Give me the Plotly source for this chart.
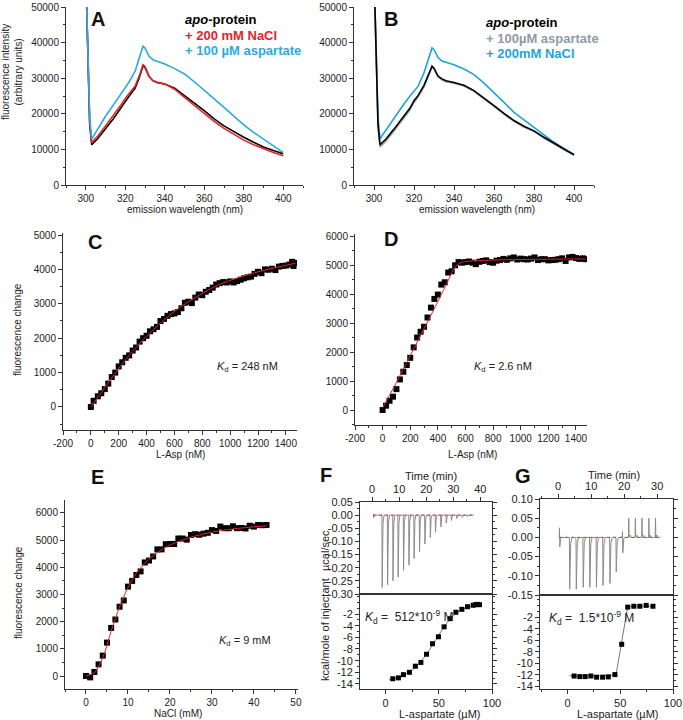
import plotly.graph_objects as go

W, H = 683, 720
FONT = "Liberation Sans, Arial, sans-serif"

# ---------------- Data ----------------
# Panel A / B : emission spectra
wl = [300, 301, 302, 303, 306, 310, 314, 318, 320, 322, 325, 327, 329, 330, 332, 334, 336,
      340, 345, 350, 355, 360, 365, 370, 375, 380, 385, 390, 395, 400]
A_apo = [60000, 36000, 17000, 11300, 13000, 15800, 18600, 21800, 23500, 25000, 27200, 30000, 33500, 33000,
         30500, 29300, 28800, 28400, 27200, 25200, 23000, 20900, 18600, 16600, 14900, 13400, 12000, 10700, 9700, 8800]
A_nacl = [60000, 36000, 17500, 11900, 13700, 16600, 19500, 22600, 24300, 25600, 27800, 30500, 33800, 33300,
          30600, 29300, 28900, 28400, 26900, 24600, 22300, 20100, 17900, 15900, 14200, 12600, 11300, 10100, 9100, 8200]
A_asp = [60000, 38000, 19000, 12900, 15600, 19300, 22500, 25800, 27400, 29000, 32000, 35200, 39000, 38500,
         36200, 35200, 34800, 34000, 32700, 31200, 29000, 26700, 24200, 21800, 19300, 16900, 14800, 12900, 10900, 9100]
B_apo = [60000, 36000, 17000, 11300, 12900, 15700, 18500, 21600, 23700, 25100, 28000, 30500, 33400, 32800,
         30600, 29800, 29300, 28800, 28000, 26500, 24500, 22300, 20100, 18100, 16500, 15200, 13400, 11700, 10000, 8500]
B_asp = [60000, 35500, 16500, 10700, 12400, 15200, 18000, 21100, 23200, 24700, 27600, 30100, 33100, 32600,
         30400, 29500, 29000, 28600, 27800, 26300, 24300, 22100, 19900, 17900, 16300, 15000, 13200, 11500, 9900, 8400]
B_nacl = [60000, 38000, 19000, 13000, 15500, 19000, 22000, 25000, 26500, 27700, 31500, 35000, 38500, 38000,
          35800, 34800, 34500, 33800, 32600, 31000, 28600, 26000, 23200, 20400, 18300, 16300, 14100, 12000, 10200, 8500]

# Panel C : L-Asp titration
C_x = [0, 20, 50, 75, 100, 125, 150, 175, 200, 225, 250, 275, 300, 325, 350, 375, 400, 425, 450, 475,
       500, 525, 550, 575, 600, 625, 650, 675, 700, 725, 750, 775, 800, 825, 850, 875, 900, 925, 950, 975,
       1000, 1025, 1050, 1075, 1100, 1125, 1150, 1175, 1200, 1225, 1250, 1275, 1300, 1325, 1350, 1375,
       1400, 1425, 1445, 1455, 1470]
C_y = [0, 180, 310, 400, 520, 680, 870, 1000, 1180, 1300, 1430, 1500, 1640, 1730, 1900, 2000, 2070, 2200,
       2260, 2330, 2500, 2560, 2650, 2700, 2720, 2760, 2870, 3030, 3060, 3020, 3180, 3270, 3250, 3350, 3400,
       3470, 3560, 3600, 3630, 3620, 3650, 3620, 3660, 3700, 3740, 3770, 3790, 3870, 3930, 3890, 4000, 3990,
       4020, 3980, 4080, 4100, 4110, 4140, 4220, 4100, 4190]
C_fit_x = [0, 100, 200, 300, 400, 500, 600, 700, 800, 900, 1000, 1100, 1200, 1300, 1400, 1470]
C_fit_y = [0, 560, 1120, 1620, 2060, 2440, 2780, 3060, 3300, 3520, 3680, 3810, 3930, 4030, 4120, 4180]

# Panel D : L-Asp titration (+NaCl)
D_x = [0, 25, 50, 75, 100, 125, 150, 175, 200, 225, 250, 275, 300, 325, 350, 375, 400, 425, 450, 475,
       500, 525, 550, 575, 600, 625, 650, 675, 700, 725, 750, 775, 800, 825, 850, 875, 900, 925, 950, 975,
       1000, 1025, 1050, 1075, 1100, 1125, 1150, 1175, 1200, 1225, 1250, 1275, 1300, 1325, 1350, 1375,
       1400, 1425, 1450, 1470]
D_y = [0, 150, 320, 460, 720, 1055, 1320, 1550, 1800, 2160, 2500, 2700, 2870, 3190, 3530, 3830, 3980, 4325,
       4405, 4740, 4785, 4990, 5100, 5080, 5100, 5120, 5080, 5030, 5110, 5140, 5160, 5100, 5080, 5150, 5170,
       5210, 5180, 5230, 5260, 5190, 5220, 5200, 5190, 5220, 5260, 5170, 5200, 5200, 5160, 5170, 5180, 5200,
       5230, 5140, 5260, 5280, 5240, 5210, 5230, 5200]
D_fit_x = [0, 100, 200, 300, 400, 480, 520, 560, 600, 700, 800, 1000, 1200, 1470]
D_fit_y = [80, 950, 1880, 2800, 3740, 4520, 4900, 5070, 5120, 5150, 5170, 5190, 5200, 5210]

# Panel E : NaCl titration
E_x = list(range(0, 44))
E_y = [0, -50, 150, 430, 750, 1230, 1770, 2080, 2550, 2780, 3290, 3500, 3720, 3850, 4180, 4250, 4400,
       4660, 4660, 4850, 4860, 4860, 5060, 5060, 5020, 5190, 5220, 5200, 5240, 5270, 5370, 5340, 5500,
       5440, 5440, 5510, 5440, 5450, 5430, 5530, 5500, 5560, 5550, 5560]
E_fit_x = [0, 2, 4, 6, 8, 10, 12, 14, 16, 18, 20, 24, 28, 32, 36, 40, 43]
E_fit_y = [0, 130, 680, 1650, 2550, 3250, 3780, 4150, 4430, 4650, 4820, 5060, 5230, 5350, 5430, 5490, 5530]

# Panel F : ITC (no NaCl)
F_inj_t = [0.4, 3.5, 5.5, 7.5, 9.4, 11.4, 13.4, 15.3, 17.3, 19.3, 21.3, 23.2, 25.2, 27.2, 29.1, 31.1, 33.1, 35.0]
F_inj_up = [0.005] + [0.0] * 17
F_inj_down = [-0.01, -0.275, -0.265, -0.25, -0.235, -0.21, -0.19, -0.165, -0.14, -0.11, -0.085, -0.065,
              -0.045, -0.03, -0.02, -0.013, -0.009, -0.006]
F_base_t = [0.4, 37.5]
F_base = [0, 0]
F_conc = [6.8, 12.1, 16.8, 22.4, 28.0, 33.2, 38.5, 44.1, 49.7, 55.0, 60.6, 66.1, 71.7, 77.0, 82.3, 84.5, 86.6, 88.2]
F_heat = [-13.1, -12.95, -12.4, -12.0, -10.95, -10.3, -8.9, -7.1, -5.9, -4.2, -2.8, -1.7, -1.2, -0.75,
          -0.5, -0.4, -0.35, -0.4]
F_fit_x = [3, 10, 20, 30, 40, 50, 60, 70, 80, 89]
F_fit_y = [-13.3, -13.0, -12.2, -10.8, -8.5, -5.6, -3.0, -1.4, -0.7, -0.45]

# Panel G : ITC (+NaCl)
G_inj_t = [0.3, 3.3, 5.3, 7.4, 9.4, 11.4, 13.4, 15.5, 17.4, 19.4, 21.3, 23.3, 25.3, 27.4, 29.4]
G_inj_up = [0.025, 0, 0, 0, 0, 0, 0, 0, 0, 0.015, 0.05, 0.05, 0.05, 0.05, 0.05]
G_inj_down = [-0.025, -0.135, -0.135, -0.13, -0.13, -0.13, -0.125, -0.12, -0.09, -0.04, 0, 0, 0, 0, 0]
G_base_t = [0.3, 31.0]
G_base = [0, 0]
G_conc = [6.3, 11.7, 16.8, 22.2, 27.6, 33.3, 38.7, 45.0, 51.4, 57.1, 62.9, 68.6, 74.6, 81.0]
G_heat = [-12.2, -12.3, -12.3, -12.2, -12.4, -12.4, -12.35, -11.95, -6.7, -0.25, -0.1, -0.1, 0.05, -0.1]
G_fit_x = [2, 30, 46, 57, 62, 82]
G_fit_y = [-12.15, -12.15, -12.0, -0.3, -0.1, -0.08]

# Tick labels
spec_y_ticks = [0, 10000, 20000, 30000, 40000, 50000]
spec_x_ticks = [300, 320, 340, 360, 380, 400]
asp_x_ticks = [-200, 0, 200, 400, 600, 800, 1000, 1200, 1400]
asp_x_text = ["-200", "0", "200", "400", "600", "800", "1000", "1200", "1400"]
C_y_ticks = [0, 1000, 2000, 3000, 4000, 5000]
D_y_ticks = [0, 1000, 2000, 3000, 4000, 5000, 6000]
E_x_ticks = [0, 10, 20, 30, 40, 50]
F_top_ticks = [0.05, 0.0, -0.05, -0.10, -0.15, -0.20, -0.25, -0.30]
F_top_text = ["0.05", "0.00", "-0.05", "-0.10", "-0.15", "-0.20", "-0.25", "-0.30"]
G_top_ticks = [0.10, 0.05, 0.0, -0.05, -0.10, -0.15]
G_top_text = ["0.10", "0.05", "0.00", "-0.05", "-0.10", "-0.15"]
heat_ticks = [-2, -4, -6, -8, -10, -12, -14]
heat_text = ["-2", "-4", "-6", "-8", "-10", "-12", "-14"]
time_F_ticks = [0, 10, 20, 30, 40]
time_G_ticks = [0, 10, 20, 30]
conc_ticks = [0, 50, 100]


# ---------------- helpers ----------------
def dxp(a, b):
    return [a / W, b / W]


def dyp(top, bot):
    return [1 - bot / H, 1 - top / H]


def axis(domain, rng, anchor, tickvals, ticktext=None, minor=None, size=10, **kw):
    d = dict(domain=domain, range=rng, anchor=anchor, showline=True, linecolor="#333", linewidth=1,
             ticks="outside", ticklen=4, tickcolor="#333", showgrid=False, zeroline=False,
             automargin=False, tickmode="array", tickvals=tickvals,
             ticktext=ticktext if ticktext is not None else [str(v) for v in tickvals],
             tickfont=dict(size=size, color="#222", family=FONT))
    if minor is not None:
        d["minor"] = dict(dtick=minor[0], tick0=minor[1], ticks="outside", ticklen=2,
                          tickcolor="#333", showgrid=False)
    d.update(kw)
    return d


def thermo(times, ups, downs, t_end):
    xs, ys = [], []
    for t, u, d in zip(times, ups, downs):
        xs += [t, t + 0.1, t + 0.2, t + 0.5, t + 0.9]
        ys += [0, u, d, 0.12 * (u + d), 0]
    xs.append(t_end)
    ys.append(0)
    return xs, ys


fig = go.Figure()

# A
for ys, col in [(A_apo, "#000000"), (A_nacl, "#e3232b"), (A_asp, "#29abe2")]:
    fig.add_trace(go.Scatter(x=wl, y=ys, mode="lines", line=dict(color=col, width=1.6),
                             xaxis="x", yaxis="y", showlegend=False))
# B
for ys, col in [(B_nacl, "#1fa3d9"), (B_asp, "#8f9aa3"), (B_apo, "#000000")]:
    fig.add_trace(go.Scatter(x=wl, y=ys, mode="lines", line=dict(color=col, width=1.6),
                             xaxis="x2", yaxis="y2", showlegend=False))
# C
fig.add_trace(go.Scatter(x=C_x, y=C_y, mode="markers", marker=dict(symbol="square", size=6, color="#000"),
                         xaxis="x3", yaxis="y3", showlegend=False))
fig.add_trace(go.Scatter(x=C_fit_x, y=C_fit_y, mode="lines", line=dict(color="#e3232b", width=1, shape="spline"),
                         xaxis="x3", yaxis="y3", showlegend=False))
# D
fig.add_trace(go.Scatter(x=D_x, y=D_y, mode="markers", marker=dict(symbol="square", size=6, color="#000"),
                         xaxis="x4", yaxis="y4", showlegend=False))
fig.add_trace(go.Scatter(x=D_fit_x, y=D_fit_y, mode="lines", line=dict(color="#e3232b", width=1, shape="spline"),
                         xaxis="x4", yaxis="y4", showlegend=False))
# E
fig.add_trace(go.Scatter(x=E_x, y=E_y, mode="markers", marker=dict(symbol="square", size=6, color="#000"),
                         xaxis="x5", yaxis="y5", showlegend=False))
fig.add_trace(go.Scatter(x=E_fit_x, y=E_fit_y, mode="lines", line=dict(color="#e3232b", width=1, shape="spline"),
                         xaxis="x5", yaxis="y5", showlegend=False))
# F top
fx, fy = thermo(F_inj_t, F_inj_up, F_inj_down, F_base_t[1])
fig.add_trace(go.Scatter(x=fx, y=fy, mode="lines", line=dict(color="#8a8a8a", width=1),
                         xaxis="x6", yaxis="y6", showlegend=False))
fig.add_trace(go.Scatter(x=F_base_t, y=F_base, mode="lines", line=dict(color="#d23c3c", width=1, dash="dot"),
                         xaxis="x6", yaxis="y6", showlegend=False))
# F bottom
fig.add_trace(go.Scatter(x=F_fit_x, y=F_fit_y, mode="lines", line=dict(color="#777", width=1, shape="spline"),
                         xaxis="x7", yaxis="y7", showlegend=False))
fig.add_trace(go.Scatter(x=F_conc, y=F_heat, mode="markers", marker=dict(symbol="square", size=5, color="#000"),
                         xaxis="x7", yaxis="y7", showlegend=False))
# G top
gx, gy = thermo(G_inj_t, G_inj_up, G_inj_down, G_base_t[1])
fig.add_trace(go.Scatter(x=gx, y=gy, mode="lines", line=dict(color="#8a8a8a", width=1),
                         xaxis="x8", yaxis="y8", showlegend=False))
fig.add_trace(go.Scatter(x=G_base_t, y=G_base, mode="lines", line=dict(color="#d23c3c", width=1, dash="dot"),
                         xaxis="x8", yaxis="y8", showlegend=False))
# G bottom
fig.add_trace(go.Scatter(x=G_fit_x, y=G_fit_y, mode="lines", line=dict(color="#777", width=1),
                         xaxis="x9", yaxis="y9", showlegend=False))
fig.add_trace(go.Scatter(x=G_conc, y=G_heat, mode="markers", marker=dict(symbol="square", size=5, color="#000"),
                         xaxis="x9", yaxis="y9", showlegend=False))

spec_ytext = [str(v) for v in spec_y_ticks]
layout = dict(
    width=W, height=H, margin=dict(l=0, r=0, t=0, b=0, autoexpand=False),
    paper_bgcolor="white", plot_bgcolor="white",
    font=dict(family=FONT, color="#222"),
    # A
    xaxis=axis(dxp(66, 303), [290, 410], "y", spec_x_ticks, minor=(10, 300)),
    yaxis=axis(dyp(7, 185), [0, 50000], "x", spec_y_ticks, spec_ytext, minor=(5000, 0)),
    # B
    xaxis2=axis(dxp(354, 594), [290, 410], "y2", spec_x_ticks, minor=(10, 300)),
    yaxis2=axis(dyp(7, 185), [0, 50000], "x2", spec_y_ticks, spec_ytext, minor=(5000, 0)),
    # C
    xaxis3=axis(dxp(63, 297), [-200, 1480], "y3", asp_x_ticks, asp_x_text, minor=(100, 0)),
    yaxis3=axis(dyp(233, 430), [-669, 5058], "x3", C_y_ticks, minor=(500, 0)),
    # D
    xaxis4=axis(dxp(355, 587), [-200, 1480], "y4", asp_x_ticks, asp_x_text, minor=(100, 0)),
    yaxis4=axis(dyp(234, 425), [-517, 6069], "x4", D_y_ticks, minor=(500, 0)),
    # E
    xaxis5=axis(dxp(65, 298), [-5, 50.5], "y5", E_x_ticks, minor=(5, 0)),
    yaxis5=axis(dyp(500, 689), [-478, 6478], "x5", D_y_ticks, minor=(500, 0)),
    # F top
    xaxis6=axis(dxp(360, 492), [-4.5, 44.3], "y6", time_F_ticks, minor=(5, 0), size=11,
                side="top", mirror=True),
    yaxis6=axis(dyp(502, 594), [-0.30, 0.05], "x6", F_top_ticks, F_top_text, size=11,
                mirror="allticks", minor=(0.025, 0)),
    # F bottom
    xaxis7=axis(dxp(360, 492), [-24, 100], "y7", conc_ticks, minor=(25, 0), size=11, mirror=True),
    yaxis7=axis(dyp(594, 689), [-14.86, 1.43], "x7", heat_ticks, heat_text, size=11,
                mirror="allticks", minor=(1, 0)),
    # G top
    xaxis8=axis(dxp(540, 673), [-5.5, 34.8], "y8", time_G_ticks, minor=(5, 0), size=11,
                side="top", mirror=True),
    yaxis8=axis(dyp(499, 595), [-0.15, 0.10], "x8", G_top_ticks, G_top_text, size=11,
                mirror="allticks", minor=(0.025, 0)),
    # G bottom
    xaxis9=axis(dxp(540, 673), [-26, 100], "y9", conc_ticks, minor=(25, 0), size=11, mirror=True),
    yaxis9=axis(dyp(595, 689), [-14.45, 1.85], "x9", heat_ticks, heat_text, size=11,
                mirror="allticks", minor=(1, 0)),
)
fig.update_layout(**layout)


def ann(xp, yp, text, size=11, color="#222", xanchor="center", angle=0, bold=False):
    if bold:
        text = "<b>" + text + "</b>"
    fig.add_annotation(x=xp / W, y=1 - yp / H, xref="paper", yref="paper", text=text, showarrow=False,
                       xanchor=xanchor, yanchor="middle", textangle=angle,
                       font=dict(size=size, color=color, family=FONT))


# panel letters
for xp, yp, t in [(98, 19, "A"), (391, 19, "B"), (95, 242, "C"), (391, 239, "D"),
                  (97, 477, "E"), (326, 475, "F"), (523, 476, "G")]:
    ann(xp, yp, t, size=20, color="#111", bold=True)

# legends
ann(183, 19, "<i>apo</i>-protein", 13, "#000", "left", bold=True)
ann(183, 35, "+ 200 mM NaCl", 13, "#e3232b", "left", bold=True)
ann(183, 51, "+ 100 µM aspartate", 13, "#29abe2", "left", bold=True)
ann(484, 22, "<i>apo</i>-protein", 13, "#000", "left", bold=True)
ann(484, 38, "+ 100µM aspartate", 13, "#8f9aa3", "left", bold=True)
ann(484, 54, "+ 200mM NaCl", 13, "#1fa3d9", "left", bold=True)

# axis titles
ann(185, 209, "emission wavelength (nm)", 10)
ann(477, 209, "emission wavelength (nm)", 10)
ann(12, 72, "fluorescence intensity<br>(arbitrary units)", 10, angle=-90)
ann(18, 330, "fluorescence change", 10, angle=-90)
ann(18, 593, "fluorescence change", 10, angle=-90)
ann(180, 454, "L-Asp (nM)", 10)
ann(472, 454, "L-Asp (nM)", 10)
ann(178, 713, "NaCl (mM)", 10)
ann(440, 714, "L-aspartate (µM)", 11)
ann(618, 714, "L-aspartate (µM)", 11)
ann(431, 476, "Time (min)", 11)
ann(614, 475, "Time (min)", 11)
ann(325, 551, "µcal/sec", 11, angle=-90)
ann(325, 630, "kcal/mole of injectant", 11, angle=-90)

# Kd labels
ann(215, 367, "<i>K</i><sub>d</sub> = 248 nM", 11, xanchor="left")
ann(472, 367, "<i>K</i><sub>d</sub> = 2.6 nM", 11, xanchor="left")
ann(217, 641, "<i>K</i><sub>d</sub> = 9 mM", 11, xanchor="left")
ann(363, 617, "<i>K</i><sub>d</sub> =  512*10<sup>-9</sup> M", 12, xanchor="left")
ann(547, 618, "<i>K</i><sub>d</sub> =  1.5*10<sup>-9</sup> M", 12, xanchor="left")

fig.write_html("out.html", config={"displayModeBar": False},
               post_script="document.body.style.margin='0';document.body.style.overflow='hidden';")
